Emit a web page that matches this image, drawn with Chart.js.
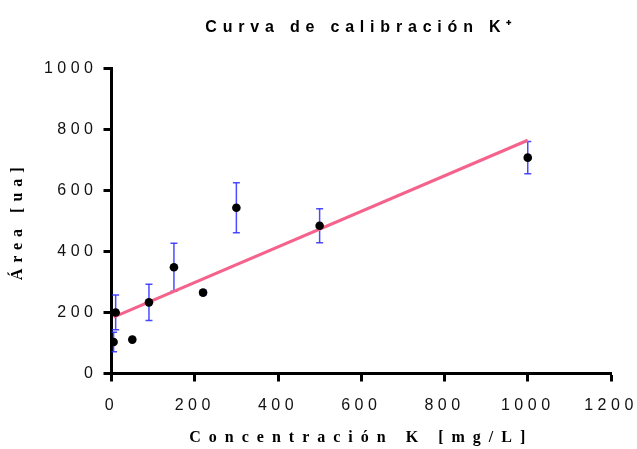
<!DOCTYPE html>
<html><head><meta charset="utf-8">
<script src="https://cdn.jsdelivr.net/npm/chart.js@4/dist/chart.umd.min.js"></script>
<style>html,body{margin:0;padding:0;background:#fff;} #wrap{width:637px;height:449px;}</style>
</head><body><div id="wrap"><canvas id="c" width="637" height="449"></canvas></div>
<script>
const chartTitle = 'Curva de calibración K⁺';
const xAxisTitle = 'Concentración K [mg/L]';
const yAxisTitle = 'Área [ua]';

const concentrations = [5, 10, 50, 90, 150, 220, 300, 500, 1000];
const areas = [103, 200, 111, 233, 348, 265, 543, 484, 707];
const errors = [32, 57, 0, 59, 79, 8, 82, 56, 53];

const fitX = [5, 1000];
const fitY = [185, 764];

const xTickValues = [0, 200, 400, 600, 800, 1000, 1200];
const yTickValues = [0, 200, 400, 600, 800, 1000];

const points = concentrations.map((x, i) => ({x, y: areas[i]}));
const errorBarPoints = [];
concentrations.forEach((x, i) => {
  errorBarPoints.push({x, y: areas[i] - errors[i]}, {x, y: areas[i] + errors[i]}, {x, y: null});
});
const fitPoints = fitX.map((x, i) => ({x, y: fitY[i]}));

const letterSpacingPlugin = {
  id: 'letterSpacing',
  afterUpdate(chart) {
    const wrap = (obj, name, ls) => {
      if (!obj || obj['__w_' + name]) return;
      const orig = obj[name];
      obj[name] = function(...a) {
        const ctx = this.ctx;
        const prev = ctx.letterSpacing;
        ctx.letterSpacing = ls;
        try { return orig.apply(this, a); } finally { ctx.letterSpacing = prev; }
      };
      obj['__w_' + name] = true;
    };
    wrap(chart.titleBlock, 'draw', '5.8px');
    wrap(chart.scales.x, 'drawLabels', '4.5px');
    wrap(chart.scales.y, 'drawLabels', '4.5px');
    wrap(chart.scales.x, 'drawTitle', '8px');
    wrap(chart.scales.y, 'drawTitle', '6px');
  }
};

const axisCommon = {
  border: {display: true, color: '#000', width: 3},
  grid: {drawOnChartArea: false, drawTicks: true, tickLength: 8, tickWidth: 3, tickColor: '#000'},
};

new Chart(document.getElementById('c'), {
  type: 'scatter',
  data: {
    datasets: [
      {
        label: 'Datos', data: points, order: 0,
        pointRadius: 4.3, pointHoverRadius: 4.3, backgroundColor: '#000', borderColor: '#000', pointBorderWidth: 0
      },
      {
        label: 'Ajuste', data: fitPoints, order: 1, showLine: true,
        borderColor: 'rgb(245,98,140)', borderWidth: 3, pointRadius: 0
      },
      {
        label: 'Error', data: errorBarPoints, order: 2, showLine: true, spanGaps: false,
        borderColor: 'rgba(45,45,255,0.85)', borderWidth: 1.5,
        pointStyle: 'line', pointRadius: 3.5, pointBorderWidth: 1.5,
        pointBorderColor: 'rgba(45,45,255,0.85)'
      }
    ]
  },
  options: {
    responsive: false,
    animation: false,
    devicePixelRatio: 1,
    layout: {padding: {left: 0, right: 26, top: 0, bottom: 0}},
    plugins: {
      legend: {display: false},
      tooltip: {enabled: false},
      title: {
        display: true, text: chartTitle, fullSize: false, color: '#000',
        font: {family: '"Liberation Sans", Arial, sans-serif', size: 16, weight: 'bold'},
        padding: {top: 18, bottom: 31}
      }
    },
    scales: {
      x: {
        ...axisCommon,
        type: 'linear', min: 0, max: 1200,
        afterBuildTicks: (s) => { s.ticks = xTickValues.map(v => ({value: v})); },
        afterFit: (s) => { s.height = 75.5; s.paddingRight = 0; s.paddingLeft = 0; },
        ticks: {color: '#111', padding: 14, maxRotation: 0,
          callback: (v) => String(v),
          font: {family: '"Liberation Sans", Arial, sans-serif', size: 16}},
        title: {display: true, text: xAxisTitle, color: '#000',
          font: {family: '"Liberation Serif", "Times New Roman", serif', size: 16, weight: 'bold'},
          padding: {top: 0, bottom: 2}}
      },
      y: {
        ...axisCommon,
        type: 'linear', min: 0, max: 1000,
        afterBuildTicks: (s) => { s.ticks = yTickValues.map(v => ({value: v})); },
        afterFit: (s) => { s.width = 111.5; s.paddingTop = 0; s.paddingBottom = 0; },
        ticks: {color: '#111', padding: 6,
          callback: (v) => String(v),
          font: {family: '"Liberation Sans", Arial, sans-serif', size: 16}},
        title: {display: true, text: yAxisTitle, color: '#000',
          font: {family: '"Liberation Serif", "Times New Roman", serif', size: 16, weight: 'bold'},
          padding: {top: 8, bottom: 0}}
      }
    }
  },
  plugins: [letterSpacingPlugin]
});
</script>
</body></html>
